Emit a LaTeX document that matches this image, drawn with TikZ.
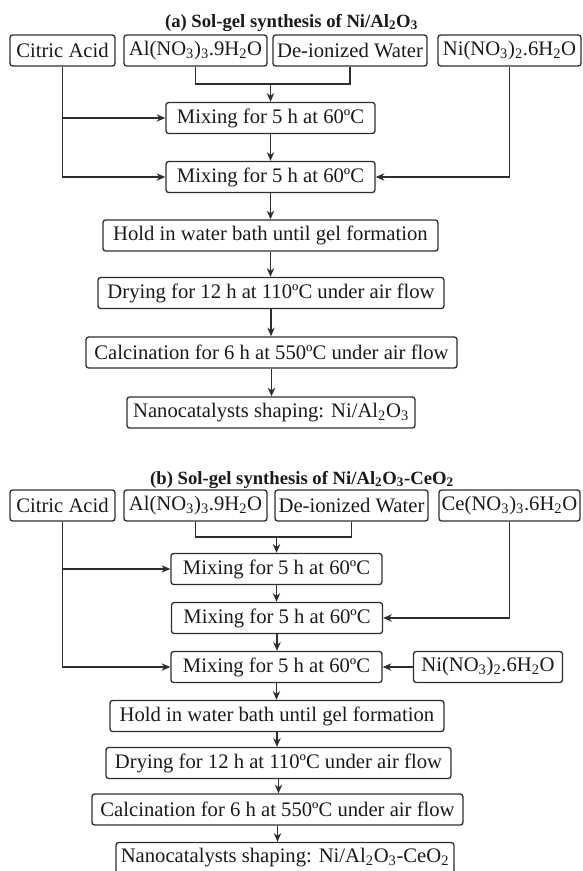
\documentclass[tikz,border=0pt]{standalone}
\usepackage{fontspec}
\setmainfont{Liberation Serif}
\usetikzlibrary{arrows.meta}
\definecolor{linec}{HTML}{2E2E2E}
\definecolor{textc}{HTML}{1A1A1A}
\newcommand{\sbs}[1]{\textsubscript{#1}}
\begin{document}
\begin{tikzpicture}[x=0.75pt,y=-0.75pt,
  box/.style={draw=linec, line width=1pt, rounded corners=2pt, inner sep=0pt,
    minimum height=23.25pt, text=textc, font=\fontsize{15.5}{18}\selectfont},
  w/.style={minimum width=#1*0.75pt},
  ttl/.style={anchor=base, inner sep=0pt, text=textc, font=\fontsize{14}{16}\selectfont\bfseries},
  conn/.style={draw=linec, line width=1pt},
  arr/.style={conn, -{Stealth[length=6.5pt, width=5.5pt, inset=2pt]}}]
\useasboundingbox (0,0) rectangle (582,871);

% ---------- (a) ----------
\node[ttl] (ttlA) at (291.5,27) {(a) Sol-gel synthesis of Ni/Al\sbs{2}O\sbs{3}};
\node[box,w=105] (citA) at (62.5,50.5) {Citric Acid};
\node[box,w=143] (alA) at (195.5,50.5) {Al(NO\sbs{3})\sbs{3}.9H\sbs{2}O};
\node[box,w=154] (dwA) at (350,50.5) {De-ionized Water};
\node[box,w=143] (niA) at (509.5,50.5) {Ni(NO\sbs{3})\sbs{2}.6H\sbs{2}O};
\node[box,w=209] (mixA1) at (270.5,118) {Mixing for 5 h at 60ºC};
\node[box,w=209] (mixA2) at (270.5,177) {Mixing for 5 h at 60ºC};
\node[box,w=335] (holdA) at (270.5,235.5) {Hold in water bath until gel formation};
\node[box,w=346] (dryA) at (271,293) {Drying for 12 h at 110ºC under air flow};
\node[box,w=371] (calcA) at (271.5,352.5) {Calcination for 6 h at 550ºC under air flow};
\node[box,w=288] (nanoA) at (271,412.5) {Nanocatalysts shaping: Ni/Al\sbs{2}O\sbs{3}};
\coordinate (jA) at (270.5,84);

\draw[conn] (alA.south) |- (jA);
\draw[conn] (dwA.south) |- (jA);
\draw[arr] (jA) -- (mixA1.north);
\draw[arr] (citA.south) |- (mixA2.west);
\draw[arr] (citA.south |- mixA1.west) -- (mixA1.west);
\draw[arr] (niA.south) |- (mixA2.east);
\draw[arr] (mixA1.south) -- (mixA1.south |- mixA2.north);
\draw[arr] (mixA2.south) -- (mixA2.south |- holdA.north);
\draw[arr] (holdA.south) -- (holdA.south |- dryA.north);
\draw[arr] (dryA.south) -- (dryA.south |- calcA.north);
\draw[arr] (calcA.south) -- (calcA.south |- nanoA.north);

% ---------- (b) ----------
\node[ttl] (ttlB) at (302,484) {(b) Sol-gel synthesis of Ni/Al\sbs{2}O\sbs{3}-CeO\sbs{2}};
\node[box,w=105] (citB) at (62.5,505.5) {Citric Acid};
\node[box,w=143] (alB) at (195.5,505.5) {Al(NO\sbs{3})\sbs{3}.9H\sbs{2}O};
\node[box,w=153] (dwB) at (351.5,505.5) {De-ionized Water};
\node[box,w=141] (ceB) at (509.5,505.5) {Ce(NO\sbs{3})\sbs{3}.6H\sbs{2}O};
\node[box,w=211] (mixB1) at (276.5,569) {Mixing for 5 h at 60ºC};
\node[box,w=211] (mixB2) at (277,618) {Mixing for 5 h at 60ºC};
\node[box,w=211] (mixB3) at (276.5,667) {Mixing for 5 h at 60ºC};
\node[box,w=149] (niB) at (488,667) {Ni(NO\sbs{3})\sbs{2}.6H\sbs{2}O};
\node[box,w=334] (holdB) at (277,716) {Hold in water bath until gel formation};
\node[box,w=345] (dryB) at (278.5,763) {Drying for 12 h at 110ºC under air flow};
\node[box,w=371] (calcB) at (277.5,809.5) {Calcination for 6 h at 550ºC under air flow};
\node[box,w=338] (nanoB) at (285,858) {Nanocatalysts shaping: Ni/Al\sbs{2}O\sbs{3}-CeO\sbs{2}};
\coordinate (jB) at (276.5,537);

\draw[conn] (alB.south) |- (jB);
\draw[conn] (dwB.south) |- (jB);
\draw[arr] (jB) -- (mixB1.north);
\draw[arr] (citB.south) |- (mixB3.west);
\draw[arr] (citB.south |- mixB1.west) -- (mixB1.west);
\draw[arr] (ceB.south) |- (mixB2.east);
\draw[arr] (niB.west) -- (mixB3.east);
\draw[arr] (mixB1.south) -- (mixB1.south |- mixB2.north);
\draw[arr] (mixB2.south) -- (mixB2.south |- mixB3.north);
\draw[arr] (mixB3.south) -- (mixB3.south |- holdB.north);
\draw[arr] (holdB.south) -- (holdB.south |- dryB.north);
\draw[arr] (dryB.south) -- (dryB.south |- calcB.north);
\draw[arr] (calcB.south) -- (calcB.south |- nanoB.north);
\end{tikzpicture}
\end{document}
